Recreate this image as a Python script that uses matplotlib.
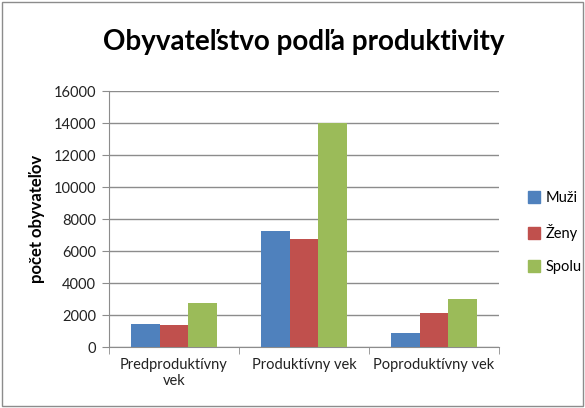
import matplotlib.pyplot as plt
import matplotlib.patches as mpatches
import numpy as np

plt.rcParams['font.family'] = ['Lato', 'DejaVu Sans']

categories = ["Predproduktívny\nvek", "Produktívny vek", "Poproduktívny vek"]
muzi = [1420, 7260, 860]
zeny = [1360, 6740, 2150]
spolu = [2780, 14000, 3010]
series = ["Muži", "Ženy", "Spolu"]
colors = ["#4F81BD", "#C0504D", "#9BBB59"]

fig = plt.figure(figsize=(5.85, 4.08), dpi=100)
ax = fig.add_axes([0.186, 0.1495, 0.667, 0.627])

x = np.arange(len(categories))
w = 0.22
for i, (vals, name, c) in enumerate(zip([muzi, zeny, spolu], series, colors)):
    ax.bar(x + (i - 1) * w, vals, w, color=c, label=name, zorder=3)

ax.set_xlim(-0.5, 2.5)
ax.set_ylim(0, 16000)
ax.set_yticks(range(0, 16001, 2000))
ax.yaxis.grid(True, color='#8c8c8c', linewidth=1, zorder=0)
ax.set_xticks(x)
ax.set_xticklabels(categories, fontsize=10.5, color='#222222')
ax.set_xticks([-0.5, 0.5, 1.5, 2.5], minor=True)
ax.tick_params(axis='x', which='major', length=0, pad=8)
ax.tick_params(axis='x', which='minor', length=5, color='#8c8c8c', direction='out')
ax.tick_params(axis='y', length=5, color='#8c8c8c', labelsize=10.5, labelcolor='#222222', pad=4)
for s in ['top', 'right']:
    ax.spines[s].set_visible(False)
for s in ['left', 'bottom']:
    ax.spines[s].set_color('#8c8c8c')
ax.set_ylabel("počet obyvateľov", fontsize=12, fontweight='bold', labelpad=6)

fig.suptitle("Obyvateľstvo podľa produktivity", fontsize=20, fontweight='bold', x=0.52, y=0.93)

handles = [mpatches.Patch(color=c, label=n) for c, n in zip(colors, series)]
fig.legend(handles=handles, loc='center left', bbox_to_anchor=(0.88, 0.43), frameon=False,
           fontsize=10.5, handlelength=0.8, handleheight=0.8, labelspacing=1.3, handletextpad=0.4)

border = mpatches.Rectangle((0.004, 0.004), 0.992, 0.992, transform=fig.transFigure,
                            fill=False, edgecolor='#8c8c8c', linewidth=1)
fig.patches.append(border)

fig.savefig("out.png", dpi=100)
